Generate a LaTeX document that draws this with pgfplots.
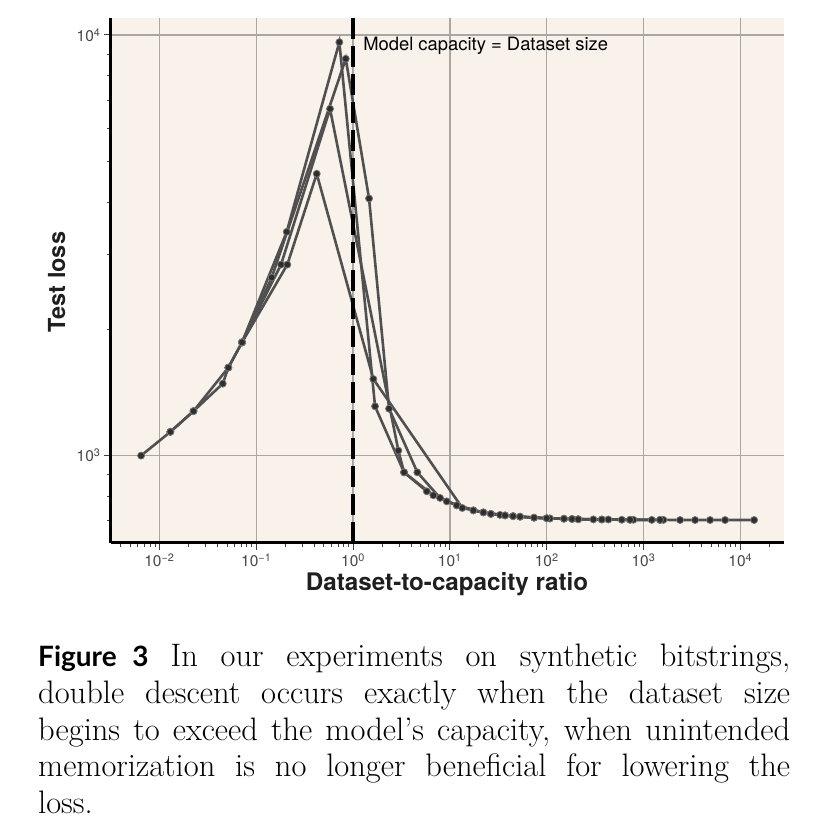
\documentclass[border=0pt]{standalone}
\usepackage{fontspec}
\usepackage{pgfplots}
\pgfplotsset{compat=1.18}
\newfontfamily\hel{TeX Gyre Heros}
\newfontfamily\lato{Lato}
\definecolor{bg}{RGB}{249,242,235}
\definecolor{gridc}{RGB}{170,166,162}
\definecolor{lc}{RGB}{80,80,80}
\begin{document}
\begin{tikzpicture}[x=1pt,y=1pt]
\useasboundingbox (0,0) rectangle (836,832);
\begin{axis}[
  at={(111pt,289pt)}, anchor=south west,
  width=673pt, height=525pt, scale only axis,
  xmode=log, ymode=log,
  xmin=0.00316, xmax=28300, ymin=620, ymax=10975,
  axis lines=left, axis line style={-, line width=3pt, black},
  axis background/.style={fill=bg},
  xtick={0.01,0.1,1,10,100,1000,10000},
  xticklabels={10\textsuperscript{−2},10\textsuperscript{−1},10\textsuperscript{0},10\textsuperscript{1},10\textsuperscript{2},10\textsuperscript{3},10\textsuperscript{4}},
  ytick={1000,10000},
  yticklabels={10\textsuperscript{3},10\textsuperscript{4}},
  minor xtick={0.004,0.005,0.006,0.007,0.008,0.009,0.02,0.03,0.04,0.05,0.06,0.07,0.08,0.09,0.2,0.3,0.4,0.5,0.6,0.7,0.8,0.9,2,3,4,5,6,7,8,9,20,30,40,50,60,70,80,90,200,300,400,500,600,700,800,900,2000,3000,4000,5000,6000,7000,8000,9000,20000},
  minor ytick={700,800,900,2000,3000,4000,5000,6000,7000,8000,9000},
  xmajorgrids, ymajorgrids,
  grid style={gridc, line width=1.4pt},
  tick align=outside, major tick length=7pt, minor tick length=4pt,
  every tick/.style={black!75, line width=1pt},
  tick label style={font=\hel\fontsize{15.5}{15.5}\selectfont, text=black!72},
  ser/.style={lc, line width=2.6pt, mark=*, mark size=3.5pt,
     mark options={fill=black!82, draw=black!55, line width=0.8pt, solid}},
  clip=false,
]
% Series 1
\addplot[ser] coordinates {(0.00646,1000) (0.01297,1139) (0.0225,1276) (0.0515,1619) (0.0713,1859) (0.2065,3404) (0.722,9614) (1.6877,1310) (3.365,912.5) (5.772,822.6) (9.29,778.7) (17.5,741) (26.5,727) (37.2,721) (53.1,716) (100,710) (151,708) (212,706) (304,705.5) (597,704) (1219,703.5)};
% Series 2
\addplot[ser] coordinates {(0.01297,1139) (0.0225,1276) (0.0451,1483) (0.0515,1619) (0.0713,1859) (0.1446,2651) (0.8407,8779) (1.4635,4086) (2.355,1293) (4.617,912.5) (7.92,793.4) (11.78,761.9) (22.2,733) (33,723) (45,718) (74.1,712) (108,709) (183,707) (371,705) (727,704) (1484,703.5)};
% Series 3
\addplot[ser] coordinates {(0.0713,1859) (0.1804,2846) (0.5786,6675) (2.938,1028) (3.365,912.5) (6.754,804.8) (11.78,761.9) (17.5,741) (26.5,727) (45,718) (74.1,712) (108,709) (183,707) (434,705) (787,704) (1606,703.5)};
% Series 4
\addplot[ser] coordinates {(0.0713,1859) (0.2095,2846) (0.4217,4677) (1.6206,1521) (13.46,750.9) (22.2,733) (37.2,721) (53.1,716) (100,710) (151,708) (212,706) (371,705) (727,704) (1484,703.5) (2388,703) (3412,703) (4875,703) (6966,703) (13900,703)};
% capacity line
\addplot[black, line width=4pt, dash pattern=on 21pt off 7pt, mark=none] coordinates {(1,10975) (1,620)};
\node[anchor=west, inner sep=0pt, font=\hel\fontsize{18.4}{18.4}\selectfont] at (axis cs:1.27,9420) {Model capacity = Dataset size};
\end{axis}
\node[anchor=base, inner sep=0pt, font=\hel\bfseries\fontsize{24.2}{24.2}\selectfont, text=black!88] at (447,241) {Dataset-to-capacity ratio};
\node[anchor=base, rotate=90, inner sep=0pt, font=\hel\bfseries\fontsize{23.5}{23.5}\selectfont, text=black!88] at (65,550) {Test loss};
\node[anchor=base west, inner sep=0pt] at (38,165) {\parbox[t]{752pt}{\fontsize{32.5}{36.6}\selectfont
\makebox[752pt][s]{{\lato\bfseries\fontsize{28}{28}\selectfont Figure\ 3}\hspace{22pt}In our experiments on synthetic bitstrings,}\\
\makebox[752pt][s]{double descent occurs exactly when the dataset size}\\
\makebox[752pt][s]{begins to exceed the model’s capacity, when unintended}\\
\makebox[752pt][s]{memorization is no longer beneficial for lowering the}\\
loss.}};
\end{tikzpicture}
\end{document}
